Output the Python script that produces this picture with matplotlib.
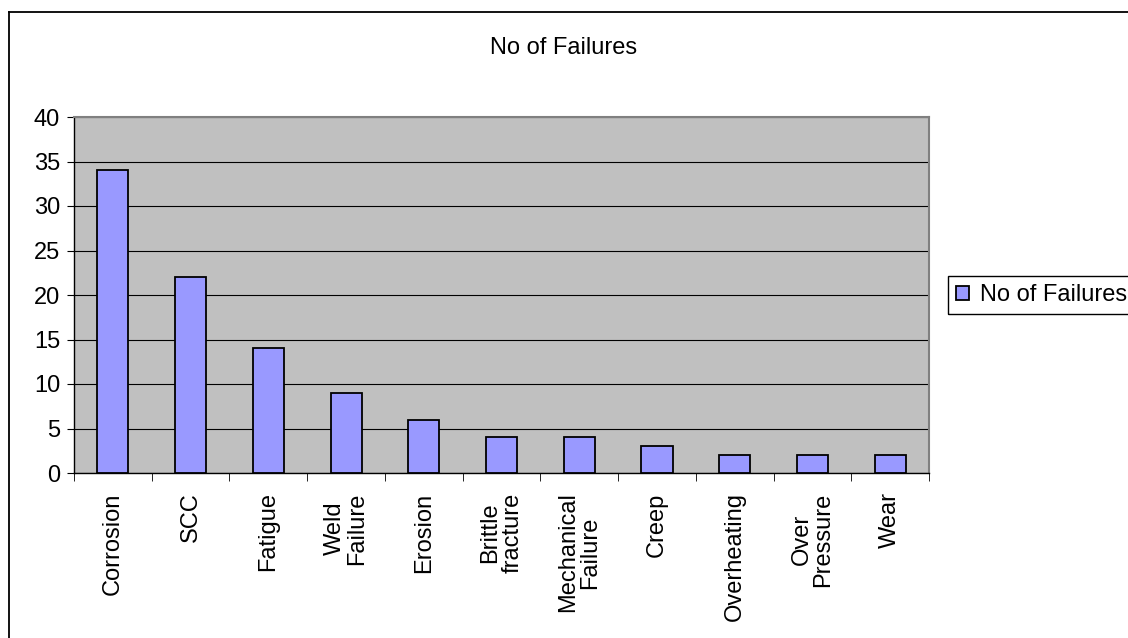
import numpy as np
import matplotlib.pyplot as plt
from matplotlib.lines import Line2D
from matplotlib.patches import Rectangle

plt.rcParams['font.family'] = ['Liberation Sans', 'DejaVu Sans']

categories = ["Corrosion", "SCC", "Fatigue", "Weld\nFailure", "Erosion",
              "Brittle\nfracture", "Mechanical\nFailure", "Creep",
              "Overheating", "Over\nPressure", "Wear"]
failures = [34, 22, 14, 9, 6, 4, 4, 3, 2, 2, 2]
y_ticks = [0, 5, 10, 15, 20, 25, 30, 35, 40]

FS = 17
W, H = 1128, 638

fig = plt.figure(figsize=(W / 100, H / 100), dpi=100)
ax = fig.add_axes([74 / W, 1 - 473 / H, 855 / W, 356 / H])
ax.set_facecolor("#C0C0C0")

x = np.arange(len(categories))
ax.bar(x, failures, width=0.4, color="#9999FF", edgecolor="black",
       linewidth=1.3, zorder=3, label="No of Failures")

ax.set_xlim(-0.5, len(categories) - 0.5)
ax.set_ylim(0, 40)
ax.set_yticks(y_ticks)
ax.yaxis.grid(True, color="black", linewidth=0.8, zorder=1)
ax.tick_params(axis="y", direction="out", length=5, labelsize=FS, pad=5)

ax.set_xticks(x)
ax.set_xticklabels(categories, rotation=90, fontsize=FS, va="top",
                   ha="center", multialignment="center", linespacing=1.0)
ax.set_xticks(np.arange(len(categories) + 1) - 0.5, minor=True)
ax.tick_params(axis="x", which="major", length=0, pad=14)
ax.tick_params(axis="x", which="minor", direction="out", length=6)

for side in ["top", "right"]:
    ax.spines[side].set_color("#808080")
    ax.spines[side].set_linewidth(1.5)
for side in ["left", "bottom"]:
    ax.spines[side].set_color("black")
    ax.spines[side].set_linewidth(1.0)

fig.text(0.5, 1 - 48 / H, "No of Failures", ha="center", va="center",
         fontsize=FS)

# legend: box runs off the right edge like the original
leg = fig.legend(loc="center left", bbox_to_anchor=(950 / W, 1 - 295 / H),
                 fontsize=FS, frameon=False, handlelength=0.55,
                 handleheight=0.55, handletextpad=0.45, borderpad=0.25,
                 borderaxespad=0)
fig.patches.append(Rectangle((948 / W, 1 - 314 / H), 200 / W, 38 / H,
                             transform=fig.transFigure, fill=False,
                             edgecolor="black", linewidth=1.0))

# outer chart border (only top and left visible)
fig.add_artist(Line2D([9 / W, 1], [1 - 11.5 / H, 1 - 11.5 / H],
                      transform=fig.transFigure, color="black", linewidth=1.3))
fig.add_artist(Line2D([9 / W, 9 / W], [0, 1 - 11.5 / H],
                      transform=fig.transFigure, color="black", linewidth=1.3))

fig.savefig("out.png", dpi=100)
